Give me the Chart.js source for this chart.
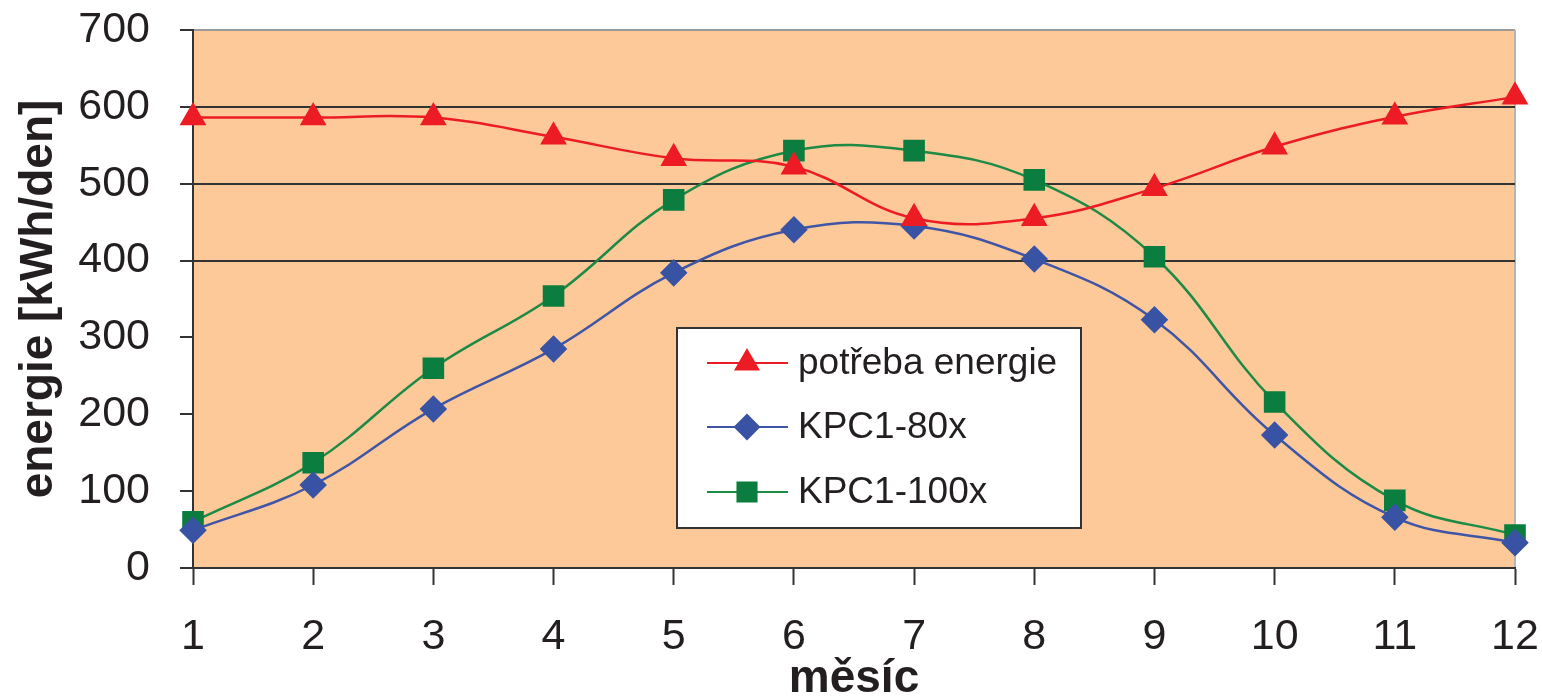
<!DOCTYPE html>
<html>
<head>
<meta charset="utf-8">
<script src="https://cdn.jsdelivr.net/npm/chart.js@4.4.1/dist/chart.umd.min.js"></script>
<style>
  html, body { margin: 0; padding: 0; background: #fff; }
  #wrap { width: 1542px; height: 700px; }
</style>
</head>
<body>
<div id="wrap"><canvas id="myChart" width="1542" height="700"></canvas></div>
<script>
// months and daily energy values
const months = ['1', '2', '3', '4', '5', '6', '7', '8', '9', '10', '11', '12']
const potreba = [586, 586, 586, 561, 533, 522, 455, 455, 494, 548, 587, 613]
const kpc80 = [49, 108, 207, 285, 384, 440, 445, 402, 323, 173, 66, 33]
const kpc100 = [60, 137, 260, 354, 479, 543, 543, 505, 405, 216, 88, 43]

const FONT = "'Liberation Sans', Arial, sans-serif"
const TXT = '#231f20'

// peach plot area with grey top and right edges
const plotBg = {
  id: 'plotBg',
  beforeDraw(chart) {
    const {ctx, chartArea: a} = chart
    ctx.save()
    ctx.fillStyle = '#fdc998'
    ctx.fillRect(a.left, a.top, a.right - a.left, a.bottom - a.top)
    ctx.lineWidth = 2
    ctx.strokeStyle = '#9a9a9a'
    ctx.beginPath()
    ctx.moveTo(a.left, a.top)
    ctx.lineTo(a.right, a.top)
    ctx.stroke()
    ctx.strokeStyle = '#b5b5b5'
    ctx.beginPath()
    ctx.moveTo(a.right, a.top)
    ctx.lineTo(a.right, a.bottom)
    ctx.stroke()
    ctx.restore()
  }
}

// boxed legend sitting inside the plot
const boxLegend = {
  id: 'boxLegend',
  afterDraw(chart) {
    const {ctx} = chart
    const x0 = 677, y0 = 328, w = 404, h = 200
    ctx.save()
    ctx.fillStyle = '#fff'
    ctx.fillRect(x0, y0, w, h)
    ctx.strokeStyle = '#333'
    ctx.lineWidth = 2
    ctx.strokeRect(x0, y0, w, h)
    const rows = [363, 427, 492]
    chart.data.datasets.forEach((ds, i) => {
      const y = rows[i]
      ctx.strokeStyle = ds.borderColor
      ctx.lineWidth = 2
      ctx.beginPath()
      ctx.moveTo(707, y)
      ctx.lineTo(788, y)
      ctx.stroke()
      ctx.fillStyle = ds.pointBackgroundColor
      ctx.strokeStyle = ds.pointBackgroundColor
      Chart.helpers.drawPoint(ctx, {pointStyle: ds.pointStyle, radius: ds.pointRadius, rotation: 0, borderWidth: 1}, 747, y)
      ctx.fillStyle = TXT
      ctx.font = '37px ' + FONT
      ctx.textBaseline = 'middle'
      ctx.textAlign = 'left'
      ctx.fillText(ds.label, 798, y + 1)
    })
    ctx.restore()
  }
}

var ctx = document.getElementById('myChart').getContext('2d');
var myChart = new Chart(ctx, {
  type: 'line',
  data: {
    labels: months,
    datasets: [{
        data: potreba,
        label: 'potřeba energie',
        borderColor: '#ed1c24',
        pointBackgroundColor: '#ed1c24',
        pointBorderColor: '#ed1c24',
        pointStyle: 'triangle',
        pointRadius: 13,
        borderWidth: 2.5
      }, {
        data: kpc80,
        label: 'KPC1-80x',
        borderColor: '#3f55a5',
        pointBackgroundColor: '#3953a4',
        pointBorderColor: '#3953a4',
        pointStyle: 'rectRot',
        pointRadius: 12,
        borderWidth: 2.5
      }, {
        data: kpc100,
        label: 'KPC1-100x',
        borderColor: '#1d8a45',
        pointBackgroundColor: '#0b7d3e',
        pointBorderColor: '#0b7d3e',
        pointStyle: 'rect',
        pointRadius: 13.5,
        borderWidth: 2.5
      }
    ]
  },
  options: {
    responsive: false,
    animation: false,
    layout: {padding: {top: 30, right: 27, left: 0, bottom: 0}},
    elements: {line: {tension: 0.4, fill: false}},
    plugins: {
      legend: {display: false},
      tooltip: {enabled: false}
    },
    scales: {
      x: {
        offset: false,
        afterFit: s => { s.height = 132; s.paddingLeft = 0; s.paddingRight = 0 },
        grid: {drawOnChartArea: false, tickLength: 17, tickColor: '#333', tickWidth: 2},
        border: {color: '#333', width: 2},
        ticks: {color: TXT, font: {family: FONT, size: 43}, padding: 26, maxRotation: 0, autoSkip: false},
        title: {display: true, text: 'měsíc', color: TXT, font: {family: FONT, size: 46, weight: 'bold', lineHeight: 0.92}, padding: 0}
      },
      y: {
        min: 0,
        max: 700,
        afterFit: s => { s.width = 193; s.paddingTop = 0; s.paddingBottom = 0 },
        grid: {
          color: c => (c.tick && c.tick.value >= 400 && c.tick.value <= 600) ? '#333' : 'rgba(0,0,0,0)',
          lineWidth: 2,
          tickLength: 13,
          tickColor: '#333',
          tickWidth: 2
        },
        border: {color: '#333', width: 2},
        ticks: {stepSize: 100, color: TXT, font: {family: FONT, size: 43}, padding: 30},
        title: {display: true, text: 'energie [kWh/den]', color: TXT, font: {family: FONT, size: 46, weight: 'bold', lineHeight: 1.2}, padding: {top: 12, bottom: 0}}
      }
    }
  },
  plugins: [plotBg, boxLegend]
});
</script>
</body>
</html>
